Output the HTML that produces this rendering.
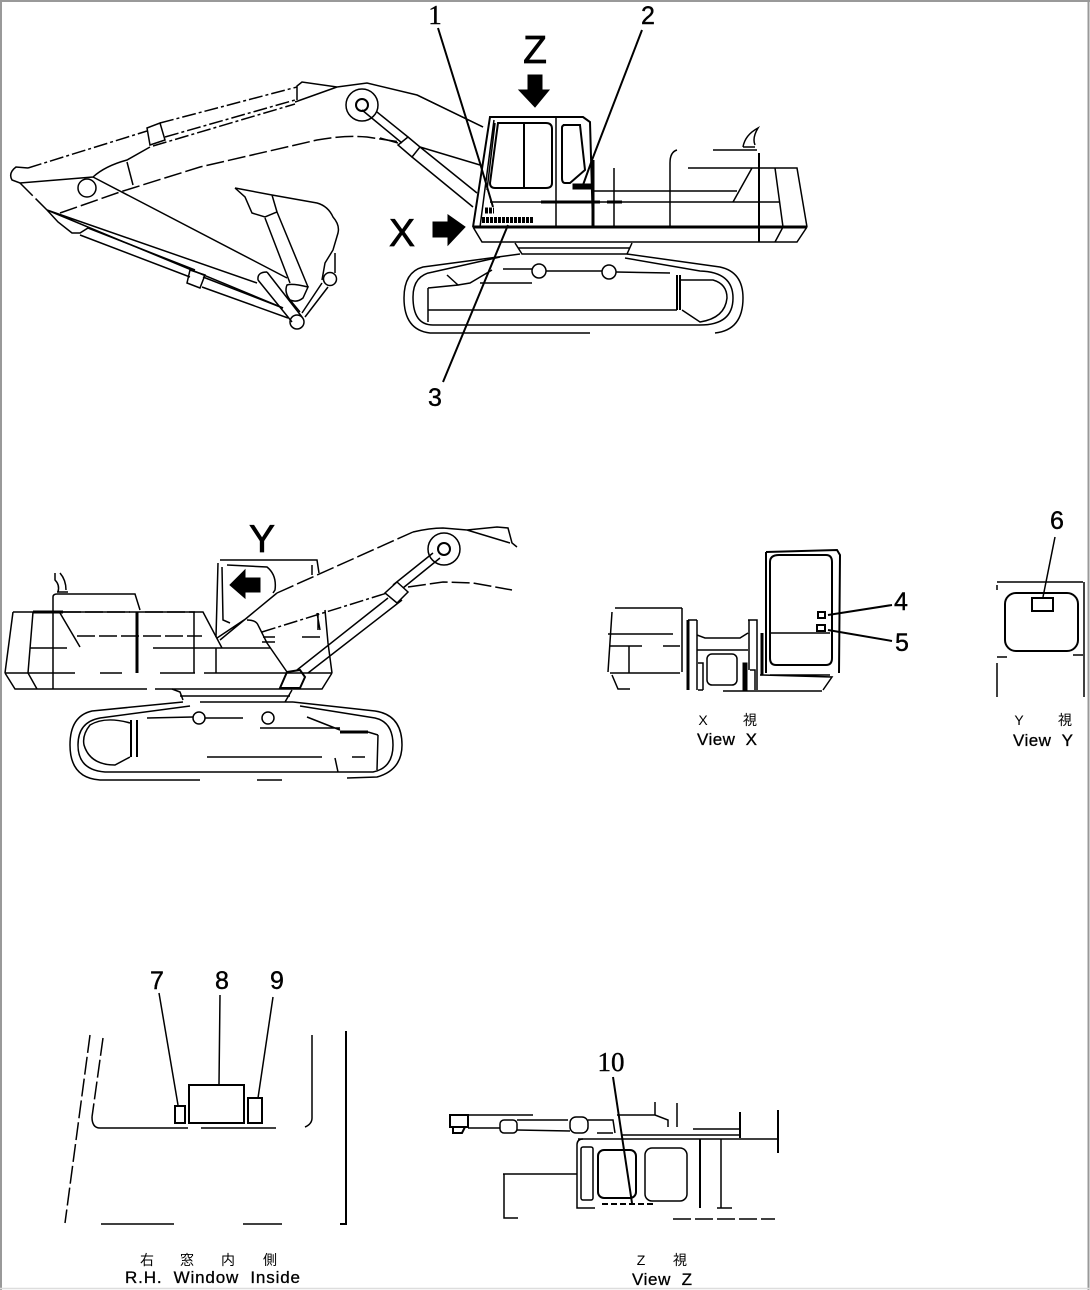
<!DOCTYPE html>
<html><head><meta charset="utf-8"><style>
html,body{margin:0;padding:0;background:#fff}
svg{display:block}
path,circle,rect,polyline,line{fill:none;stroke:#000;stroke-width:1.5}
.t{stroke-width:3}.m{stroke-width:2}.d{stroke-dasharray:14 3 3 3}.e{stroke-dasharray:18 4}
.f{fill:#000;stroke:#000;stroke-width:1}
.n{font-family:"Liberation Sans",sans-serif;font-size:25px;text-anchor:middle;fill:#000;stroke:#000;stroke-width:.4}
.s{font-family:"Liberation Serif",serif;font-size:27px;text-anchor:middle;fill:#000;stroke:#000;stroke-width:.4}
.b{font-family:"Liberation Sans",sans-serif;font-size:39px;text-anchor:middle;fill:#000;stroke:#000;stroke-width:.7}
.c{font-family:"Liberation Sans",sans-serif;font-size:17px;fill:#000;stroke:#000;stroke-width:.3}
.j{font-family:"Liberation Sans","Noto Sans CJK JP",sans-serif;font-size:14px;text-anchor:middle;fill:#000}
</style></head><body>
<svg width="1090" height="1290" viewBox="0 0 1090 1290" xmlns="http://www.w3.org/2000/svg">
<rect x="0" y="0" width="1090" height="1290" style="fill:#fff;stroke:none"/>
<path d="M1 0V1290M0 1H1090M1088.500 0V1290" style="stroke:#999;stroke-width:2"/>
<path d="M0 1288.500H1090" style="stroke:#ddd;stroke-width:1.500"/>

<!-- Top excavator: arm -->
<path class="d" d="M28 168L147 131M160 123L297 87M165 137L295 100M153 146L295 104"/>
<path d="M147 128L160 123L165 140L150 145ZM297 100V86L302 82L337 87L367 83L417 95L483 127M295 102L337 87"/>
<path d="M28 168L16 167Q8 173 12 180L20 183L93 177Q105 166 127 160L150 147"/>
<path d="M127 162L133 185"/><circle cx="87" cy="188" r="9"/>
<path class="e" d="M20 183L47 210M60 213L120 192L200 167L317 140Q345 135 367 137L400 142"/>
<path d="M93 177L287 278M47 210L283 308M47 210L257 283"/>
<path d="M47 210L58 222L72 233H80L88 228L195 270M80 235L190 277"/>
<path d="M190 270L205 275L200 288L187 283Z"/>
<path d="M203 277L283 308M202 287L288 318"/>
<path d="M267 272L302 317M258 280L292 322M258 280Q257 272 267 272"/>
<circle cx="297" cy="322" r="7"/>
<path d="M302 313L322 283M305 317L328 287M290 300L300 312"/>
<circle cx="330" cy="279" r="6.500"/>
<path d="M287 285Q292 283 308 287L303 298Q297 303 290 300Q284 292 287 285Z"/>
<path d="M235 188L272 195L317 203Q328 206 333 217Q340 225 338 233L333 250L325 263L322 280M235 188L245 197L252 213L265 217L277 212L272 195M265 218L290 283M277 212L308 287M335 253V273"/>
<!-- boom cylinder -->
<circle cx="362" cy="105" r="16"/><circle cx="362" cy="105" r="6" class="m"/>
<path d="M362 110L402 143M377 112L408 137"/>
<path d="M408 137L420 147L412 157L398 145Z"/>
<path d="M420 147L477 193M412 157L473 207M420 147L480 165M380 138L398 143M417 95L483 127"/>
<!-- cab -->
<path class="m" d="M473 227L490 117H583L590 122L593 227"/>
<path d="M480 227L494 120M487 190L495 123"/>
<path class="m" d="M498 123H546Q552 123 552 129V183Q552 188 546 188H495Q490 188 490 183Z"/>
<path class="m" d="M524 123V188"/><path d="M556 118V227"/>
<path class="m" d="M563 125H580L585 170L570 183H565Q562 183 562 178V128Q562 125 565 125Z"/>
<rect class="f" x="573" y="184" width="19" height="5"/>
<path style="stroke-width:6;stroke-dasharray:3 1" d="M485 210.500H494M482 220H533"/>
<path d="M490 202H780M593 191H737"/>
<path class="t" d="M593 160V227M541 202H600M607 202H622"/>
<path d="M614 168V227M670 227V163Q670 152 677 150M713 150H757M688 168H797L807 227M775 168L783 227L775 242M752 168L733 202M743 147H755M743 147Q745 135 758 128Q752 138 755 145"/>
<path class="m" d="M759 153V242"/>
<path class="t" d="M473 227H807M720 227H807"/>
<path d="M473 227L482 242H797L807 227"/>
<path d="M515 243L522 254H627L632 243M518 248H630"/>
<!-- track -->
<path d="M520 254L423 267Q404 272 404 298Q404 330 430 333H590M715 333Q743 330 743 298Q743 272 720 267L627 254"/>
<path d="M500 257L433 272Q413 275 413 297Q413 325 433 325H700Q733 325 733 298Q733 272 700 271L625 258"/>
<path d="M428 288V322M428 288L458 285L447 275M458 285L470 283L492 270M480 283H532M428 310H677M503 269H532M546 271H602M616 272L670 273"/>
<circle cx="539" cy="271" r="7"/><circle cx="609" cy="272" r="7"/>
<path class="m" d="M677 275V310M680 275V310"/>
<path d="M680 280H713Q727 284 727 298Q725 318 700 322L682 310"/>
<!-- top arrows -->
<polygon class="f" points="528,75 542,75 542,90 549,90 535,107 519,90 528,90"/>
<polygon class="f" points="433,222 448,222 448,215 465,227 448,245 448,237 433,237"/>
<text class="b" x="535" y="63">Z</text><text class="b" x="402" y="246">X</text>
<text class="s" x="435" y="24">1</text><text class="n" x="648" y="24">2</text><text class="n" x="435" y="406">3</text>
<path class="m" d="M438 28L480 163L493 207M642 30L592 160L583 185M443 382L508 225"/>

<!-- Lower excavator -->
<path d="M13 612H203L222 648M13 612L5 673M33 612L28 673L37 689M53 597V689M53 597Q53 594 57 594H135L140 610"/>
<path class="t" d="M33 612H63M137 612V673"/>
<path d="M57 592H68M58 592Q60 585 55 580V573M60 573Q66 580 66 590"/>
<path class="e" d="M63 612H130M145 612H195M77 636H202"/>
<path d="M60 613L80 647M30 648H67M153 648H270M194 612V673M216 648V673"/>
<path d="M5 673H75M100 673H122M160 673H195M204 673H332M5 673L15 689H147M155 689H322L332 673"/>
<path d="M218 563L216 637M222 567L223 620L230 623M220 560H317L319 573M227 565L267 567Q277 575 275 590L273 593M312 565V575"/>
<path d="M217 638L247 618M220 640L277 593M247 620Q256 620 258 625L267 643L287 672"/>
<path class="e" d="M277 593L413 532"/>
<path d="M413 532Q430 528 443 528L467 530L497 527L508 528L512 543L517 547M467 530L510 543"/>
<path class="d" d="M262 632L387 593"/>
<circle cx="444" cy="549" r="16"/><circle cx="444" cy="549" r="6" class="m"/>
<path d="M440 558L403 588M433 553L393 585M397 582L408 592L397 603L385 593Z"/>
<path d="M388 598L297 670M402 600L308 673"/>
<path class="e" d="M408 587L443 582L473 583L512 590"/>
<path class="m" d="M287 672L300 670L305 677L300 688H280Z"/>
<path d="M263 637H275M262 642H275M317 613L320 630M302 637H320M325 610L328 643L332 673M318 613V630"/>
<path d="M172 689L180 692L183 700M180 696H290M292 690L285 702M200 702H293"/>
<path d="M183 702L92 711Q70 716 70 745Q70 778 100 780H200M257 780H282M347 778L377 777Q402 770 402 745Q402 715 375 711L293 702"/>
<path d="M190 706L100 718Q78 722 78 745Q78 770 105 772H373Q393 768 393 745Q393 722 375 718L300 706"/>
<path d="M130 723Q105 716 90 725Q82 735 84 745Q90 765 115 765L130 757"/>
<path class="m" d="M131 720V757M137 720V757"/>
<path d="M147 718L193 717M205 718H243M260 728H340M307 717L340 730M207 757H322M352 757H365M335 758L338 772M378 735L377 770"/>
<path class="t" d="M340 732H368"/><path d="M368 732L378 735"/>
<circle cx="199" cy="718" r="6"/><circle cx="268" cy="718" r="6"/>
<polygon class="f" points="230,585 245,570 245,578 260,578 260,592 245,592 245,598"/>
<text class="b" x="262" y="552">Y</text>

<!-- View X -->
<path class="m" d="M766 552L837 550L840 555L839 673M766 552V673"/>
<path class="m" d="M779 555H826Q832 555 832 562V658Q832 665 826 665H776Q770 665 770 658V562Q770 555 779 555Z"/>
<path d="M770 633H830M770 675H830M760 675L832 677L823 690M723 691H822"/>
<rect x="818" y="612" width="7" height="6" class="m"/><rect x="817" y="625" width="8" height="6" class="m"/>
<path class="m" d="M828 615L892 605M828 630L892 641"/>
<text class="n" x="901" y="610">4</text><text class="n" x="902" y="651">5</text>
<path d="M615 608H682M612 612L608 672M682 608V672M608 634H673M610 646H642M663 646H680M629 646V673M610 673H680M612 675L618 689H630"/>
<path class="t" d="M688 620V690M762 633V675"/>
<path d="M697 620V690M688 620H697M697 635L705 638H740L748 633M697 650H748M748 620H757V690M749 620V670"/>
<rect x="707" y="654" width="30" height="31" rx="5"/>
<path d="M698 663H703V690M698 690H703"/>
<rect class="f" x="743" y="663" width="4" height="27"/>
<path d="M750 670H755V690"/>
<text class="j" x="703" y="725">X</text><text class="j" x="750" y="725">視</text>
<text class="c" x="697" y="745" textLength="60" lengthAdjust="spacing">View&#160;&#160;X</text>

<!-- View Y -->
<text class="n" x="1057" y="529">6</text>
<path d="M1055 537L1043 597M997 582H1083M1084 582V697M997 585V590M997 657H1007M1073 655H1083M997 663V697"/>
<rect x="1005" y="593" width="73" height="58" rx="11" class="m"/>
<rect x="1032" y="598" width="21" height="13" class="m"/>
<text class="j" x="1019" y="725">Y</text><text class="j" x="1065" y="725">視</text>
<text class="c" x="1013" y="746" textLength="60" lengthAdjust="spacing">View&#160;&#160;Y</text>

<!-- R.H. Window Inside -->
<text class="n" x="157" y="989">7</text><text class="n" x="222" y="989">8</text><text class="n" x="277" y="989">9</text>
<path d="M159 993L178 1105M220 995L219 1084M273 997L258 1098"/>
<rect x="175" y="1106" width="10" height="17" class="m"/>
<rect x="189" y="1085" width="55" height="38" class="m"/>
<rect x="248" y="1098" width="14" height="25" class="m"/>
<path style="stroke-dasharray:18 4" d="M90 1035L65 1223"/>
<path style="stroke-dasharray:18 4" d="M103 1038L92 1117"/>
<path d="M92 1117Q92 1128 100 1128H188M201 1128H276M305 1127Q312 1124 312 1118V1035"/>
<path class="m" d="M346 1031V1224H340"/>
<path d="M101 1224H174M243 1224H282"/>
<text class="j" x="147" y="1265">右</text><text class="j" x="187" y="1265">窓</text><text class="j" x="228" y="1265">内</text><text class="j" x="270" y="1265">側</text>
<text class="c" x="125" y="1283" textLength="175" lengthAdjust="spacing">R.H.&#160;&#160;Window&#160;&#160;Inside</text>

<!-- View Z -->
<text class="s" x="611" y="1071">10</text>
<path class="m" d="M613 1077L632 1203"/>
<path d="M578 1139H778M622 1135H740M693 1129H740M677 1103V1127M655 1102V1115M617 1115H655L668 1120V1127"/>
<path class="m" d="M778 1110V1153M740 1112V1138"/>
<rect x="450" y="1115" width="18" height="12" class="m"/><path class="m" d="M453 1127V1133H462L465 1127"/>
<path d="M468 1115H533M468 1128H500M517 1120H568M517 1130L570 1131M588 1120H613L615 1133M597 1133H613"/>
<rect x="500" y="1120" width="17" height="13" rx="4"/><rect x="570" y="1117" width="18" height="16" rx="6"/>
<path d="M583 1139Q577 1139 577 1145V1208H595"/>
<rect x="581" y="1147" width="12" height="53" rx="2"/>
<rect x="598" y="1150" width="38" height="48" rx="6" class="m"/>
<rect x="645" y="1148" width="42" height="53" rx="7"/>
<path class="m" d="M700 1139V1208"/><path d="M721 1139V1208M717 1208H732"/>
<path style="stroke-dasharray:6 3;stroke-width:2" d="M602 1204H653"/>
<path d="M503 1174H577M504 1174V1218H518"/>
<path class="e" d="M673 1219H775"/>
<text class="j" x="641" y="1265">Z</text><text class="j" x="680" y="1265">視</text>
<text class="c" x="632" y="1285" textLength="60" lengthAdjust="spacing">View&#160;&#160;Z</text>
</svg>
</body></html>
